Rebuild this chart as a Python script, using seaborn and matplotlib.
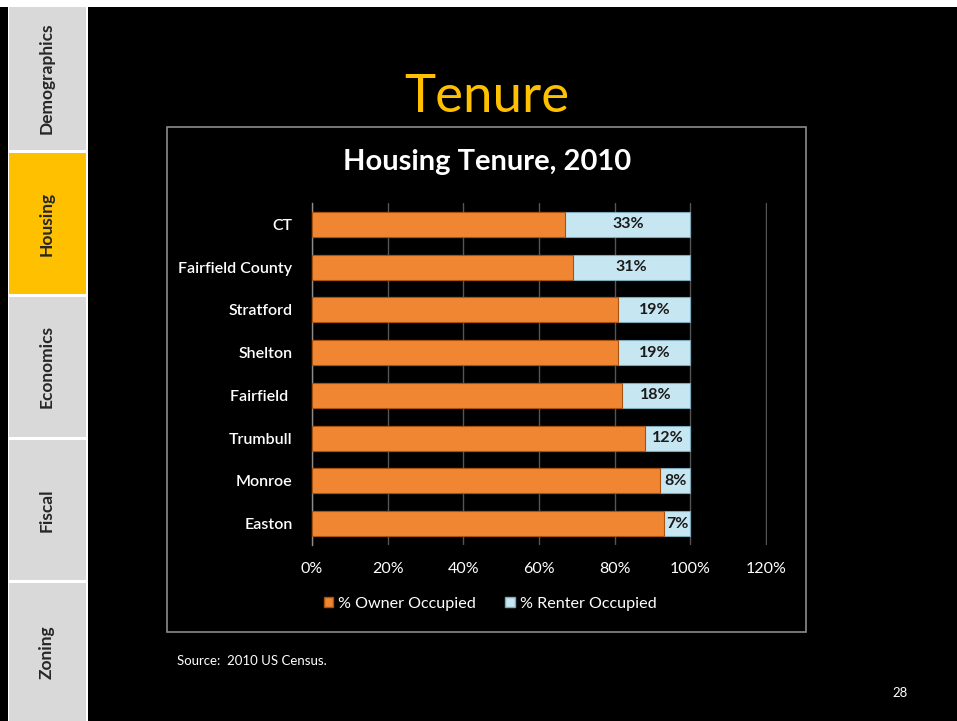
import matplotlib
matplotlib.use("Agg")
import matplotlib.pyplot as plt
from matplotlib.patches import Rectangle, Patch
import seaborn as sns
import pandas as pd

# ---- data ----
places = ["CT", "Fairfield County", "Stratford", "Shelton", "Fairfield ",
          "Trumbull", "Monroe", "Easton"]
owner = [67, 69, 81, 81, 82, 88, 92, 93]
renter = [33, 31, 19, 19, 18, 12, 8, 7]
xticks = [0, 20, 40, 60, 80, 100, 120]
tabs = ["Demographics", "Housing", "Economics", "Fiscal", "Zoning"]
active_tab = "Housing"

sns.set_theme(style="dark")
FONT = ["Lato", "DejaVu Sans"]
plt.rcParams["font.family"] = FONT

W, H = 957, 721
fig = plt.figure(figsize=(W / 100, H / 100), dpi=100, facecolor="black")

def fx(px):
    return px / W

def fy(py):
    return 1 - py / H

# white top strip and sidebar backdrop
fig.patches.append(Rectangle((0, fy(7)), 1, 7 / H, transform=fig.transFigure,
                             facecolor="white", edgecolor="none", zorder=0))
fig.patches.append(Rectangle((fx(8), 0), fx(80), fy(5), transform=fig.transFigure,
                             facecolor="white", edgecolor="none", zorder=0))
tab_bounds = [(7, 150), (153, 294), (297, 437), (440, 580), (583, 721)]
for name, (t0, t1) in zip(tabs, tab_bounds):
    col = "#FFC000" if name == active_tab else "#D9D9D9"
    fig.patches.append(Rectangle((fx(9), fy(t1)), fx(77), (t1 - t0) / H,
                                 transform=fig.transFigure, facecolor=col,
                                 edgecolor="none", zorder=1))
    fig.text(fx(47), fy((t0 + t1) / 2), name, rotation=90, ha="center",
             va="center", fontsize=12.5, fontweight="bold", color="#262626")

# slide title
fig.text(fx(487), fy(97), "Tenure", ha="center", va="center", fontsize=38,
         color="#FFC000")

# chart frame
fig.patches.append(Rectangle((fx(167), fy(632)), fx(806 - 167), (632 - 127) / H,
                             transform=fig.transFigure, facecolor="black",
                             edgecolor="#8c8c8c", linewidth=1.2, zorder=1))
fig.text(fx(487), fy(162), "Housing Tenure, 2010", ha="center", va="center",
         fontsize=21, fontweight="bold", color="white")

# plot axes
ax = fig.add_axes([fx(312), fy(545), fx(767 - 312), (545 - 203) / H])
ax.set_facecolor("black")
ax.set_zorder(2)

df = pd.DataFrame({"place": places, "owner": owner, "renter": renter})
df["total"] = df["owner"] + df["renter"]

blue = "#C6E6F1"
orange = "#F08632"
sns.barplot(data=df, x="total", y="place", color=blue, width=0.58,
            edgecolor="#7FA9BA", linewidth=0.8, saturation=1, ax=ax, zorder=3)
sns.barplot(data=df, x="owner", y="place", color=orange, width=0.58,
            edgecolor="#A85210", linewidth=0.8, saturation=1, ax=ax, zorder=4)

for i, (o, r) in enumerate(zip(owner, renter)):
    ax.text(o + r / 2, i, f"{r}%", ha="center", va="center", fontsize=11.5,
            fontweight="bold", color="#1a1a1a", zorder=5)

ax.set_xlim(0, 120.3)
ax.set_ylim(len(places) - 0.5, -0.5)
ax.set_xticks(xticks)
ax.set_xticklabels([f"{t}%" for t in xticks], color="white", fontsize=11.5)
ax.tick_params(axis="y", colors="white", labelsize=11.5, length=0, pad=14)
ax.tick_params(axis="x", length=0, pad=12)
for lab in ax.get_yticklabels():
    lab.set_fontweight("semibold")
ax.set_xlabel("")
ax.set_ylabel("")
ax.grid(axis="x", color="#555555", linewidth=1)
ax.grid(axis="y", visible=False)
ax.set_axisbelow(True)
for s in ["top", "right", "bottom"]:
    ax.spines[s].set_visible(False)
ax.spines["left"].set_color("#8c8c8c")
ax.spines["left"].set_linewidth(1)

handles = [Patch(facecolor=orange, edgecolor="#A85210", label="% Owner Occupied"),
           Patch(facecolor=blue, edgecolor="#7FA9BA", label="% Renter Occupied")]
leg = fig.legend(handles=handles, loc="center", bbox_to_anchor=(fx(490), fy(604)),
                 ncol=2, frameon=False, fontsize=11.6, handlelength=0.6,
                 handleheight=0.6, handletextpad=0.3, columnspacing=1.8)
for t in leg.get_texts():
    t.set_color("white")

fig.text(fx(177), fy(661), "Source:  2010 US Census.", ha="left", va="center",
         fontsize=9.5, color="white")
fig.text(fx(900), fy(693), "28", ha="center", va="center", fontsize=9.5,
         color="white")

fig.savefig("out.png", dpi=100, facecolor="black")
